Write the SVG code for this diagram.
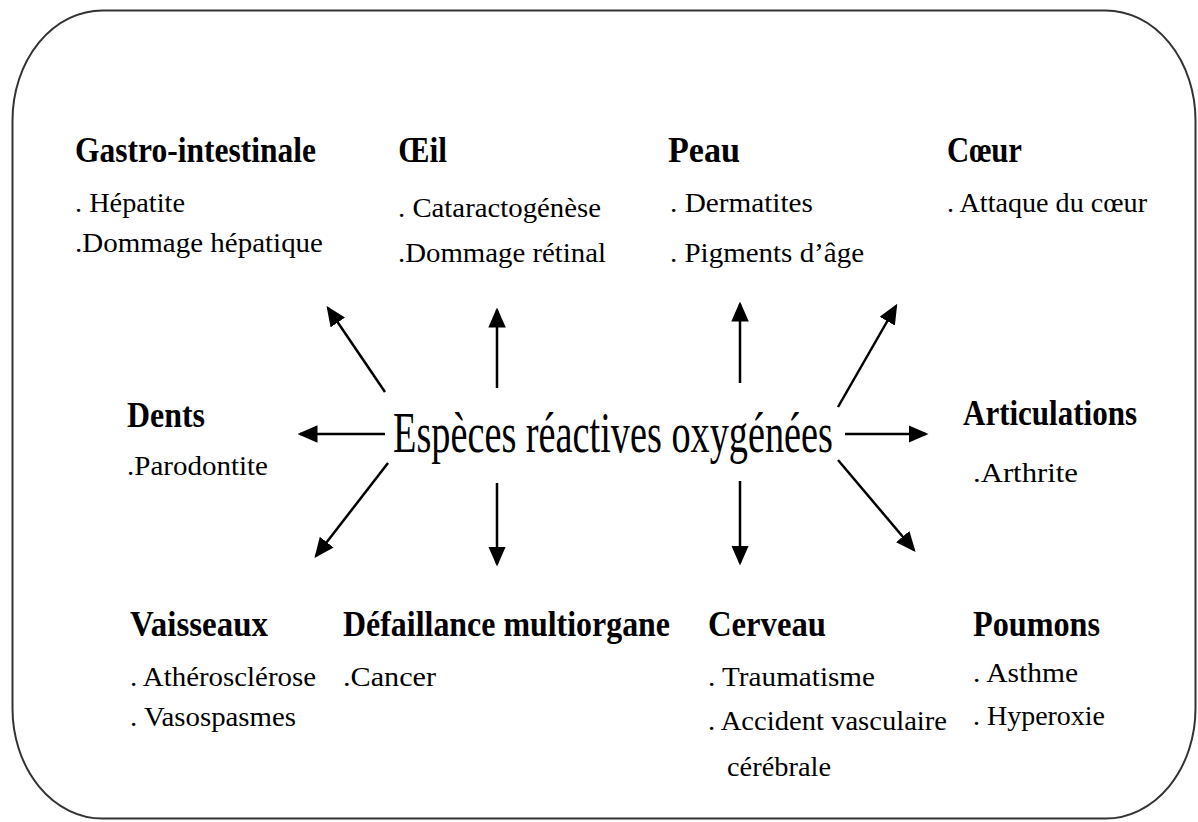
<svg xmlns="http://www.w3.org/2000/svg" width="1198" height="822" viewBox="0 0 1198 822">
<style>
text{font-family:'Liberation Serif','DejaVu Serif',serif;fill:#000}
.t{font-size:35px;font-weight:bold}
.i{font-size:28px}
.c{font-size:58px}
.ln{stroke:#000;stroke-width:2.5;fill:none;marker-end:url(#ah)}
</style>
<defs>
<marker id="ah" markerWidth="8" markerHeight="7" refX="7" refY="3.5" orient="auto" markerUnits="strokeWidth">
<path d="M0,0 L8,3.5 L0,7 Z" fill="#000"/>
</marker>
</defs>
<rect x="12.5" y="10.5" width="1183" height="808" rx="90" ry="110" fill="#fff" stroke="#333" stroke-width="2"/>
<g id="connectors">
<line class="ln" x1="385" y1="392" x2="328" y2="308"/>
<line class="ln" x1="497" y1="388" x2="497" y2="310"/>
<line class="ln" x1="740" y1="383" x2="740" y2="304"/>
<line class="ln" x1="838" y1="407" x2="896" y2="306"/>
<line class="ln" x1="385" y1="434" x2="300" y2="434"/>
<line class="ln" x1="845" y1="434" x2="926" y2="434"/>
<line class="ln" x1="388" y1="463" x2="316" y2="556"/>
<line class="ln" x1="497" y1="483" x2="497" y2="564"/>
<line class="ln" x1="740" y1="481" x2="740" y2="563"/>
<line class="ln" x1="838" y1="460" x2="914" y2="550"/>
</g>
<g font-family="Liberation Serif, DejaVu Serif, serif">
<g id="center"><text class="c" x="393" y="452" textLength="440" lengthAdjust="spacingAndGlyphs">Espèces réactives oxygénées</text></g>
<g id="gastro">
<text class="t" x="75" y="162" textLength="241" lengthAdjust="spacingAndGlyphs">Gastro-intestinale</text>
<text class="i" x="75" y="212" textLength="110" lengthAdjust="spacingAndGlyphs">. Hépatite</text>
<text class="i" x="75" y="252" textLength="248" lengthAdjust="spacingAndGlyphs">.Dommage hépatique</text>
</g>
<g id="oeil">
<text class="t" x="398" y="162" textLength="49" lengthAdjust="spacingAndGlyphs">Œil</text>
<text class="i" x="398" y="217" textLength="203" lengthAdjust="spacingAndGlyphs">. Cataractogénèse</text>
<text class="i" x="398" y="262" textLength="208" lengthAdjust="spacingAndGlyphs">.Dommage rétinal</text>
</g>
<g id="peau">
<text class="t" x="668" y="162" textLength="72" lengthAdjust="spacingAndGlyphs">Peau</text>
<text class="i" x="670" y="212" textLength="143" lengthAdjust="spacingAndGlyphs">. Dermatites</text>
<text class="i" x="670" y="262" textLength="194" lengthAdjust="spacingAndGlyphs">. Pigments d’âge</text>
</g>
<g id="coeur">
<text class="t" x="947" y="162" textLength="75" lengthAdjust="spacingAndGlyphs">Cœur</text>
<text class="i" x="947" y="212" textLength="200" lengthAdjust="spacingAndGlyphs">. Attaque du cœur</text>
</g>
<g id="dents">
<text class="t" x="127" y="427" textLength="78" lengthAdjust="spacingAndGlyphs">Dents</text>
<text class="i" x="127" y="475" textLength="141" lengthAdjust="spacingAndGlyphs">.Parodontite</text>
</g>
<g id="articulations">
<text class="t" x="963" y="425" textLength="174" lengthAdjust="spacingAndGlyphs">Articulations</text>
<text class="i" x="973" y="482" textLength="105" lengthAdjust="spacingAndGlyphs">.Arthrite</text>
</g>
<g id="vaisseaux">
<text class="t" x="130" y="636" textLength="138" lengthAdjust="spacingAndGlyphs">Vaisseaux</text>
<text class="i" x="130" y="686" textLength="186" lengthAdjust="spacingAndGlyphs">. Athérosclérose</text>
<text class="i" x="130" y="726" textLength="166" lengthAdjust="spacingAndGlyphs">. Vasospasmes</text>
</g>
<g id="defaillance">
<text class="t" x="343" y="636" textLength="327" lengthAdjust="spacingAndGlyphs">Défaillance multiorgane</text>
<text class="i" x="343" y="686" textLength="93" lengthAdjust="spacingAndGlyphs">.Cancer</text>
</g>
<g id="cerveau">
<text class="t" x="708" y="636" textLength="118" lengthAdjust="spacingAndGlyphs">Cerveau</text>
<text class="i" x="708" y="686" textLength="167" lengthAdjust="spacingAndGlyphs">. Traumatisme</text>
<text class="i" x="708" y="730" textLength="239" lengthAdjust="spacingAndGlyphs">. Accident vasculaire</text>
<text class="i" x="727" y="776" textLength="104" lengthAdjust="spacingAndGlyphs">cérébrale</text>
</g>
<g id="poumons">
<text class="t" x="973" y="636" textLength="127" lengthAdjust="spacingAndGlyphs">Poumons</text>
<text class="i" x="973" y="682" textLength="105" lengthAdjust="spacingAndGlyphs">. Asthme</text>
<text class="i" x="973" y="725" textLength="132" lengthAdjust="spacingAndGlyphs">. Hyperoxie</text>
</g>
</g>
</svg>
